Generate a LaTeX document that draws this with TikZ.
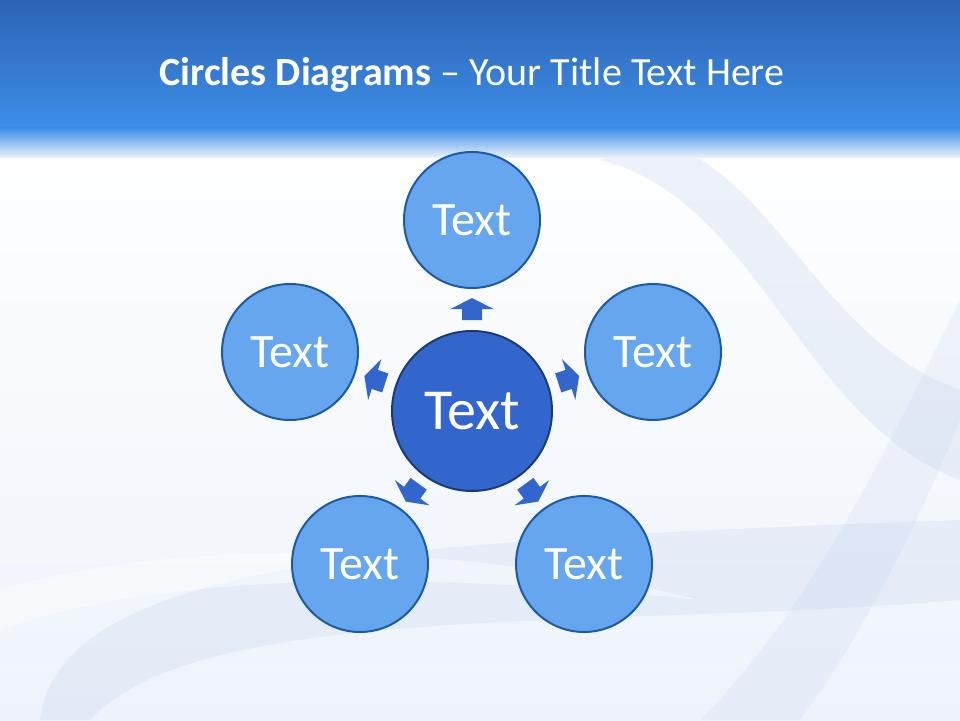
\documentclass[tikz,border=0pt]{standalone}
\usepackage{fontspec}
\setmainfont{Carlito}
\usetikzlibrary{calc}

\definecolor{headtop}{HTML}{2C63B4}
\definecolor{headbot}{HTML}{3D8EE8}
\definecolor{bodybg}{HTML}{EEF3FB}
\definecolor{swirl}{HTML}{B4C8EA}
\definecolor{petalfill}{HTML}{66A6EE}
\definecolor{petalline}{HTML}{1C5AA6}
\definecolor{hubfill}{HTML}{3366CC}
\definecolor{hubline}{HTML}{1A3A78}

\tikzset{
  petal/.style={circle, draw=petalline, line width=2pt, fill=petalfill,
    minimum size=136pt, inner sep=0pt, text=white, font=\fontsize{48}{48}\selectfont},
  hub/.style={circle, draw=hubline, line width=2pt, fill=hubfill,
    minimum size=160pt, inner sep=0pt, text=white, font=\fontsize{58}{58}\selectfont},
  pointer/.style={fill=hubfill},
}

\begin{document}
\begin{tikzpicture}[x=1pt,y=1pt]

   \useasboundingbox (0,0) rectangle (960,720);

   % background
   \shade [top color=white, bottom color=bodybg] (0,0) rectangle (960,592);
   \fill [swirl, opacity=0.22] (600,560) .. controls (760,520) and (800,300) .. (960,240)
      -- (960,330) .. controls (820,380) and (780,540) .. (660,580) -- cycle;
   \fill [swirl, opacity=0.20] (40,0) .. controls (60,160) and (400,180) .. (960,200)
      -- (960,120) .. controls (600,90) and (200,120) .. (90,0) -- cycle;
   \fill [swirl, opacity=0.15] (700,0) .. controls (820,120) and (900,300) .. (960,420)
      -- (960,300) .. controls (920,200) and (860,80) .. (800,0) -- cycle;
   \fill [white, opacity=0.45] (0,90) .. controls (200,160) and (500,140) .. (700,120)
      .. controls (500,170) and (200,190) .. (0,130) -- cycle;
   \shade [top color=headtop, bottom color=headbot] (0,592) rectangle (960,720);
   \shade [top color=headbot, bottom color=bodybg] (0,562) rectangle (960,592);

   % title
   \node (Title) at (472,645) [text=white, font=\fontsize{40}{40}\selectfont]
      {\textbf{Circles Diagrams} -- Your Title Text Here};

   % circles
   \node (Center) at (472,309) [hub] {Text};
   \node (Top) at (472,500) [petal] {Text};
   \node (Left) at (290,368) [petal] {Text};
   \node (Right) at (653,368) [petal] {Text};
   \node (Bottom-Left) at (360,156) [petal] {Text};
   \node (Bottom-Right) at (584,156) [petal] {Text};

   % arrows
   \foreach \n/\a in {Top/90, Left/162, Right/18, Bottom-Left/234, Bottom-Right/306} {
      \begin{scope}[shift={($(Center.center)!0.534!(\n.center)$)}, rotate=\a-90]
         \fill [pointer] (-10,-11) -- (10,-11) -- (10,0) -- (21.5,0) -- (0,11)
            -- (-21.5,0) -- (-10,0) -- cycle;
      \end{scope}
   }

\end{tikzpicture}
\end{document}
